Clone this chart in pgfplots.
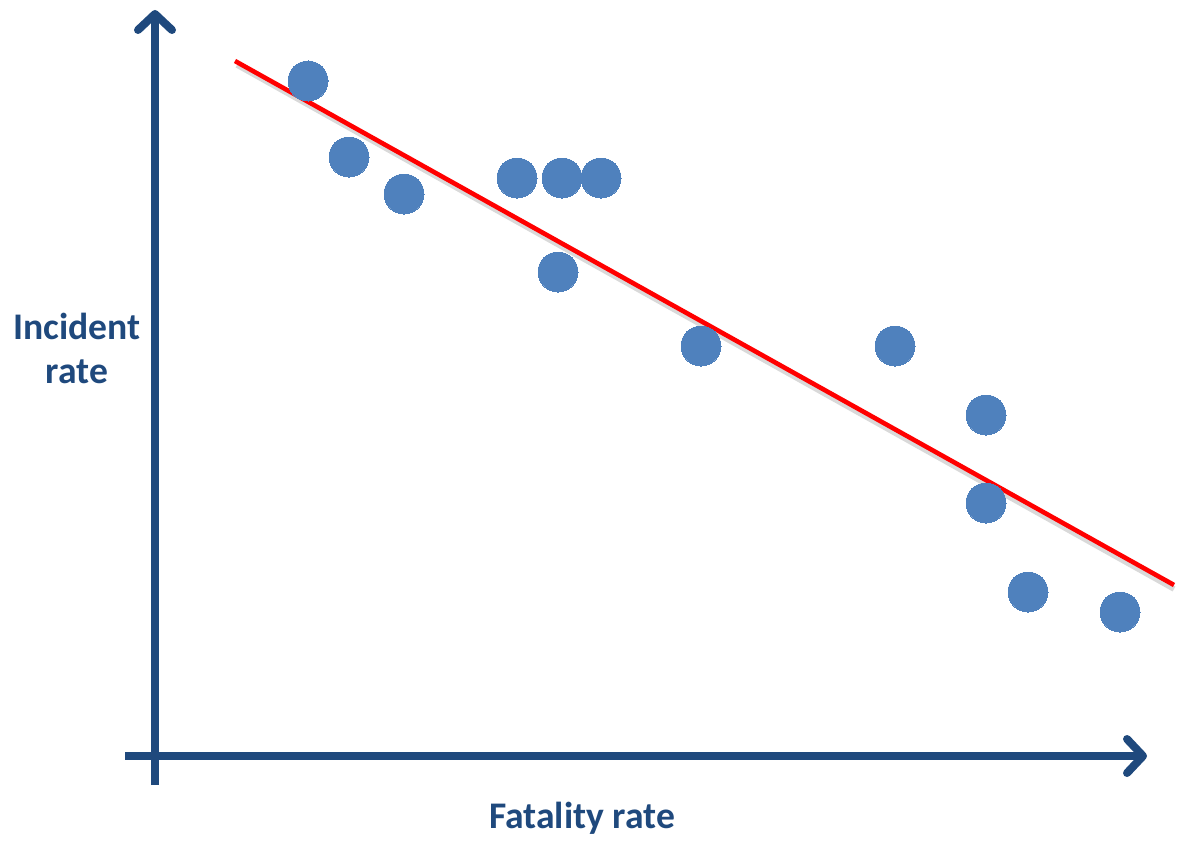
\documentclass[border=0pt]{standalone}
\usepackage{pgfplots}
\pgfplotsset{compat=1.18}
\usepackage{fontspec}
\setmainfont{Carlito}
\usetikzlibrary{arrows.meta}

\definecolor{axisblue}{HTML}{1F497D}
\definecolor{dotblue}{HTML}{4F81BD}

\begin{document}
\begin{tikzpicture}
\begin{axis}[
    scale only axis,
    width=588.5pt, height=418pt,
    xmin=0, xmax=1177,
    ymin=0, ymax=836,
    hide axis,
    clip=false,
]
% page frame
\path (axis cs:0,0) rectangle (axis cs:1177,836);

% axes with arrows
\draw[axisblue, line width=4pt, -{Straight Barb[length=8pt,width=17pt,round]}]
    (axis cs:155,51) -- (axis cs:155,826);
\draw[axisblue, line width=4pt, -{Straight Barb[length=8pt,width=17pt,round]}]
    (axis cs:125,80) -- (axis cs:1147,80);

% trend line (with faint shadow)
\addplot[gray, opacity=0.3, line width=2.8pt, no marks]
    coordinates {(237,771) (1174,247)};
\addplot[red, line width=2.3pt, no marks]
    coordinates {(235,775) (1174,251)};

% data points
\addplot[only marks, mark=*, mark size=10pt, draw=dotblue, fill=dotblue,
    mark options={draw=dotblue, fill=dotblue, line width=0pt}]
    coordinates {
    (308,755) (349,679) (404,642) (517,658) (562,658) (601,658)
    (558,564) (701,490) (895,490) (986,421) (986,333) (1028,244) (1120,224)
    };

% labels
\node[axisblue, font=\fontsize{18.8}{22}\selectfont\bfseries, align=center]
    at (axis cs:77,488) {Incident\\rate};
\node[axisblue, font=\fontsize{18.8}{22}\selectfont\bfseries]
    at (axis cs:582,18) {Fatality rate};
\end{axis}
\end{tikzpicture}
\end{document}
